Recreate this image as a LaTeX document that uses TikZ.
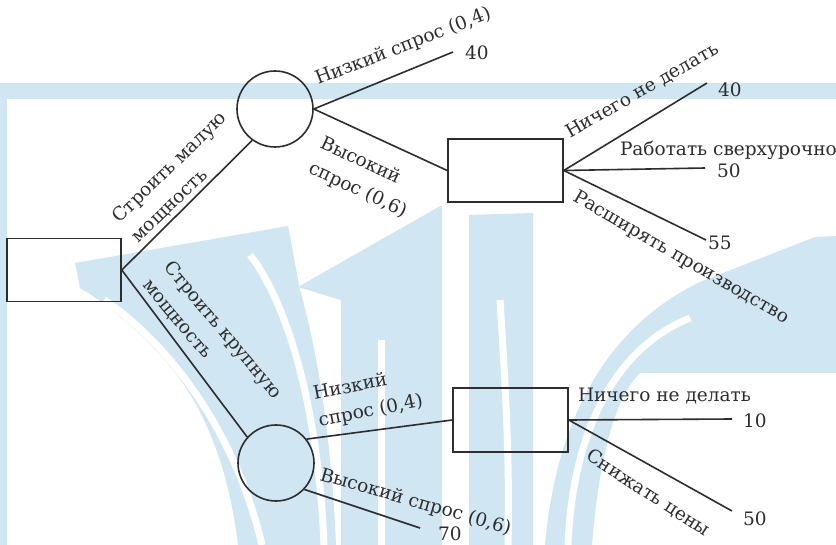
\documentclass[tikz,border=0pt]{standalone}
\usepackage{fontspec}
\setmainfont{DejaVu Serif}
\definecolor{wmblue}{RGB}{208,231,243}
\definecolor{ink}{RGB}{45,45,45}
\newcommand\lbf{\fontsize{18.5}{27.5}\selectfont}
\begin{document}
\begin{tikzpicture}[x=1pt,y=-1pt,
  wm/.style={fill=wmblue, draw=none},
  gap/.style={draw=white, line width=7pt},
  conn/.style={draw=ink, line width=1.6pt},
  dbox/.style={rectangle, draw=ink, line width=1.6pt, inner sep=0, minimum width=114pt, minimum height=63pt},
  chance/.style={circle, draw=ink, line width=1.6pt, inner sep=0, minimum size=76pt},
  lbl/.style={inner sep=0, outer sep=0, font=\lbf, text=ink}]
\useasboundingbox (0,0) rectangle (836,545);
\fill[white] (0,0) rectangle (836,545);
% watermark
\fill[wm] (0,83) rectangle (836,99);
\fill[wm] (0,99) rectangle (7,545);
\fill[wm] (75,263) -- (288,226) -- (300,290) .. controls (320,360) and (332,450) .. (336,545) -- (238,545) .. controls (228,460) and (200,400) .. (165,360) .. controls (130,320) and (100,300) .. (80,288) -- cycle;
\draw[gap] (104,300) .. controls (150,330) and (230,410) .. (262,545);
\draw[gap] (250,255) .. controls (285,300) and (318,400) .. (324,545);
\fill[wm] (341,545) -- (341,300) -- (298,287) -- (442,205) -- (442,545) -- cycle;
\draw[gap] (381,340) -- (381,545);
\fill[wm] (469,545) -- (469,215) -- (533,213) -- (533,545) -- cycle;
\draw[gap] (500,300) .. controls (505,380) and (510,460) .. (508,545);
\fill[wm] (545,545) .. controls (555,430) and (600,330) .. (700,282) -- (815,237) -- (836,236) -- (836,373) -- (640,373) .. controls (612,400) and (598,470) .. (592,545) -- cycle;
\draw[gap] (568,545) .. controls (572,440) and (610,350) .. (690,318);
\draw[gap] (640,378) -- (836,378);
% nodes
\node[dbox] (root) at (64,270) {};
\node[chance] (c1) at (275,109) {};
\node[chance] (c2) at (276,463) {};
\node[dbox, minimum width=115pt] (r2) at (505.5,170.5) {};
\node[dbox, minimum width=115pt, minimum height=64pt] (r3) at (510.5,420) {};
\coordinate (e1) at (453,52);
\coordinate (e2) at (707,83);
\coordinate (e3) at (705,168);
\coordinate (e4) at (706,240);
\coordinate (e5) at (732,419);
\coordinate (e6) at (732,511);
\coordinate (e7) at (420,528);
% connectors
\draw[conn] (root.east) -- (c1.234);
\draw[conn] (root.east) -- (c2.138);
\draw[conn] (c1.east) -- (e1);
\draw[conn] (c1.east) -- (r2.west);
\draw[conn] (r2.east) -- (e2);
\draw[conn] (r2.east) -- (e3);
\draw[conn] (r2.east) -- (e4);
\draw[conn] (c2.38) -- (r3.west);
\draw[conn] (c2.-43) -- (e7);
\draw[conn] (r3.east) -- (e5);
\draw[conn] (r3.east) -- (e6);
% labels
\node[lbl, rotate=21, anchor=base west] (l1) at (318,85) {Низкий спрос (0,4)};
\node[lbl, rotate=-25, anchor=north west, align=left] (l2) at (325,135) {Высокий\\спрос (0,6)};
\node[lbl, rotate=44, anchor=north west, align=left] (l3) at (110,214) {Строить малую\\мощность};
\node[lbl, rotate=-50, anchor=north west, align=left] (l4) at (174,259) {Строить крупную\\мощность};
\node[lbl, rotate=30, anchor=base west] (l5) at (570,139) {Ничего не делать};
\node[lbl, anchor=base west] (l6) at (620,156) {Работать сверхурочно};
\node[lbl, rotate=-30, anchor=north west] (l7) at (579,189) {Расширять производство};
\node[lbl, rotate=11, anchor=north west, align=left] (l8) at (312,386) {Низкий\\спрос (0,4)};
\node[lbl, rotate=-16, anchor=base west] (l9) at (319,480) {Высокий спрос (0,6)};
\node[lbl, anchor=base west] (l10) at (578,402) {Ничего не делать};
\node[lbl, rotate=-33, anchor=base west] (l11) at (585,459) {Снижать цены};
% values
\node[lbl, anchor=base west] (v1) at (465,60) {40};
\node[lbl, anchor=base west] (v2) at (718,97) {40};
\node[lbl, anchor=base west] (v3) at (717,178) {50};
\node[lbl, anchor=base west] (v4) at (708,250) {55};
\node[lbl, anchor=base west] (v5) at (743,428) {10};
\node[lbl, anchor=base west] (v6) at (743,525) {50};
\node[lbl, anchor=base west] (v7) at (438,540) {70};
\end{tikzpicture}
\end{document}
